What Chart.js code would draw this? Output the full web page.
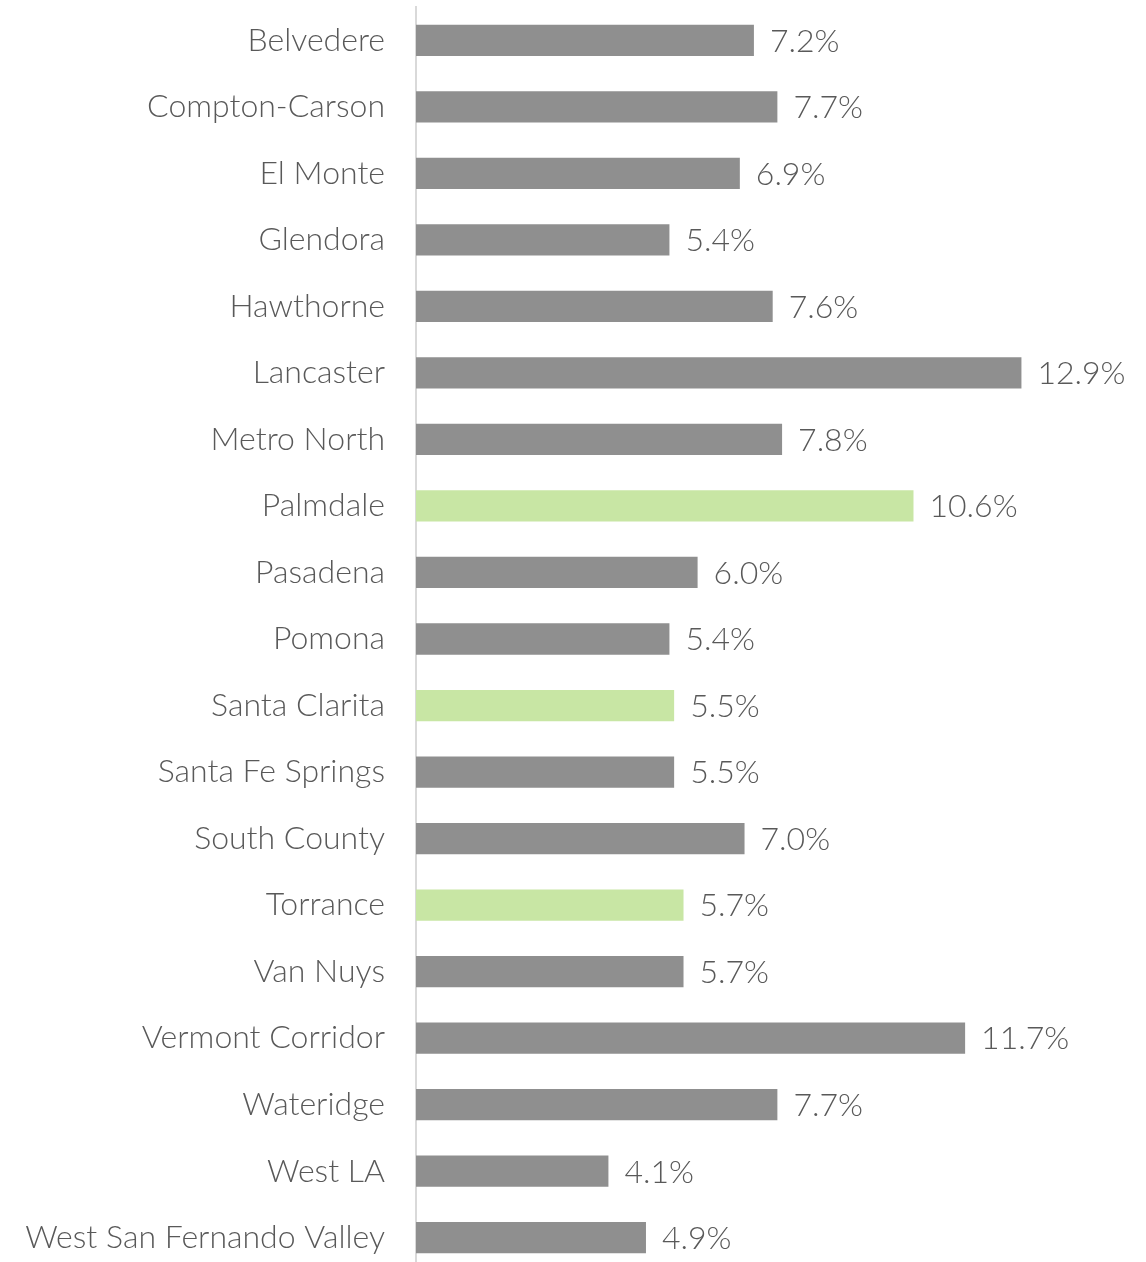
<!DOCTYPE html>
<html>
<head>
<meta charset="utf-8">
<script src="https://cdn.jsdelivr.net/npm/chart.js@4"></script>
<style>
  html, body { margin: 0; padding: 0; background: #fff; overflow: hidden; }
  #wrap { width: 1146px; height: 1271px; position: relative; }
</style>
</head>
<body>
<div id="wrap"><canvas id="rateChart"></canvas></div>
<script>
// ================= DATA =================
const areas = [
  "Belvedere", "Compton-Carson", "El Monte", "Glendora", "Hawthorne",
  "Lancaster", "Metro North", "Palmdale", "Pasadena", "Pomona",
  "Santa Clarita", "Santa Fe Springs", "South County", "Torrance",
  "Van Nuys", "Vermont Corridor", "Wateridge", "West LA",
  "West San Fernando Valley"
];
const rates = [7.2, 7.7, 6.9, 5.4, 7.6, 12.9, 7.8, 10.6, 6.0, 5.4, 5.5, 5.5, 7.0, 5.7, 5.7, 11.7, 7.7, 4.1, 4.9];
const highlighted = ["Palmdale", "Santa Clarita", "Torrance"];

const GRAY = "#8f8f8f";
const GREEN = "#c8e6a4";
const TEXT = "#595959";
const FONT = "Lato, 'Open Sans', sans-serif";

// label nilai di ujung bar
const valueLabels = {
  id: "valueLabels",
  afterDatasetsDraw(chart) {
    const ctx = chart.ctx;
    const meta = chart.getDatasetMeta(0);
    ctx.save();
    ctx.font = "300 32px " + FONT;
    ctx.fillStyle = TEXT;
    ctx.textAlign = "left";
    ctx.textBaseline = "middle";
    meta.data.forEach((bar, i) => {
      ctx.fillText(rates[i].toFixed(1) + "%", bar.x + 16, bar.y + 1);
    });
    ctx.restore();
  }
};

const ctx = document.getElementById("rateChart").getContext("2d");

window.rateChart = new Chart(ctx, {
  type: "bar",
  data: {
    labels: areas,
    datasets: [
      {
        data: rates,
        backgroundColor: areas.map(a => highlighted.includes(a) ? GREEN : GRAY),
        borderWidth: 0,
        barPercentage: 0.94,
        categoryPercentage: 0.5
      }
    ]
  },
  plugins: [valueLabels],
  options: {
    indexAxis: "y",
    responsive: true,
    maintainAspectRatio: false,
    animation: false,
    events: [],
    layout: { padding: { top: 7, right: 26, bottom: 0, left: 0 } },
    plugins: {
      legend: { display: false },
      tooltip: { enabled: false }
    },
    scales: {
      x: {
        min: 0,
        max: 15,
        display: false
      },
      y: {
        afterFit: s => {
          s.width = 416;
          s.paddingTop = 0;
          s.paddingBottom = 0;
        },
        grid: { display: false, drawTicks: false },
        border: { display: true, color: "#d9d9d9", width: 2 },
        ticks: {
          padding: 31,
          color: TEXT,
          font: { family: FONT, size: 32, weight: 300 }
        }
      }
    }
  }
});
</script>
</body>
</html>
